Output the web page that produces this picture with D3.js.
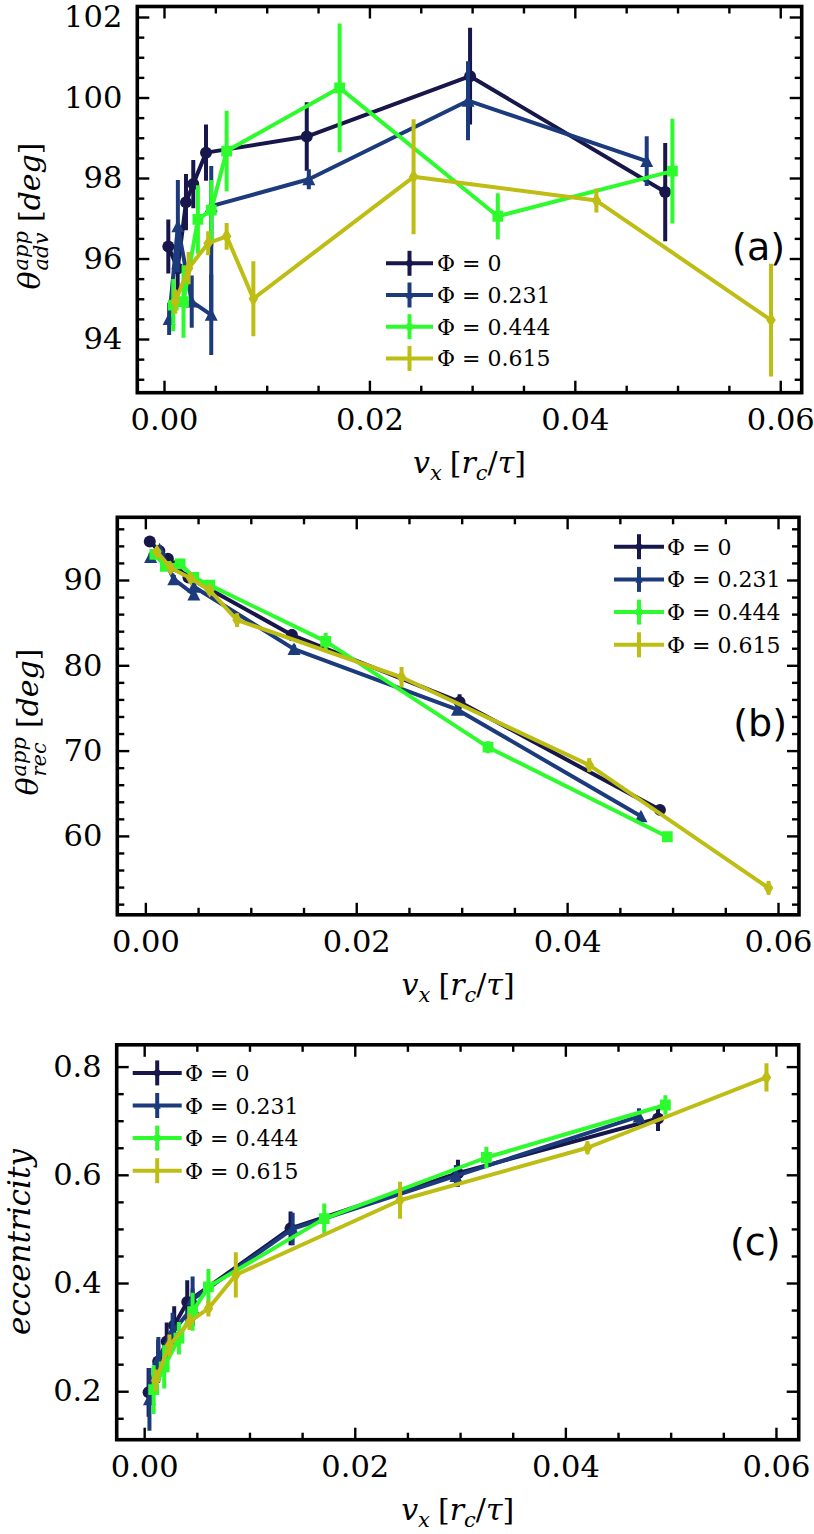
<!DOCTYPE html>
<html>
<head>
<meta charset="utf-8">
<script src="https://cdn.jsdelivr.net/npm/d3@7"></script>
<style>
  body { margin: 0; background: #fff; }
</style>
</head>
<body>
<div id="chart"></div>
<script>
// velocities v_x for each packing fraction
const vx0   = [0.00042, 0.00133, 0.00214, 0.00285, 0.00409, 0.0139, 0.0298, 0.0488];
const vx231 = [0.0005, 0.00135, 0.0027, 0.0046, 0.0046, 0.0141, 0.0296, 0.0470];
const vx444 = [0.0009, 0.0019, 0.0033, 0.0046, 0.0061, 0.0171, 0.0325, 0.0495];
const vx615 = [0.0011, 0.0024, 0.0043, 0.0061, 0.0087, 0.0243, 0.0421, 0.0591];

// (a) apparent advancing angle
const adv0      = [96.3, 95.75, 97.4, 97.85, 98.63, 99.03, 100.53, 97.65];
const advErr0   = [0.67, 0.6, 0.7, 0.6, 0.7, 0.85, 1.2, 1.22];
const adv231    = [94.5, 96.8, 94.93, 94.6, 97.3, 97.97, 99.92, 98.42];
const advErr231 = [0.4, 1.15, 0.65, 1.0, 1.0, 0.25, 0.98, 0.62];
const adv444    = [94.84, 94.93, 96.97, 97.2, 98.67, 100.24, 97.05, 98.17];
const advErr444 = [0.65, 0.9, 0.85, 0.75, 1.0, 1.6, 0.57, 1.3];
const adv615    = [94.93, 95.76, 96.38, 96.55, 95.0, 98.03, 97.44, 94.47];
const advErr615 = [0.3, 0.4, 0.3, 0.33, 0.93, 1.43, 0.3, 1.4];

// (b) apparent receding angle
const rec0      = [94.5, 93.4, 92.5, 91.6, 90.3, 83.55, 75.7, 63.05];
const recErr0   = [0.5, 0.5, 0.5, 0.5, 0.5, 0.7, 0.9, 0.4];
const rec231    = [92.7, 93.6, 90.1, 88.3, 89.2, 81.9, 74.8, 62.3];
const recErr231 = [0.5, 0.5, 0.5, 0.6, 0.5, 0.5, 0.6, 0.4];
const rec444    = [93.0, 91.6, 91.9, 90.3, 89.4, 82.8, 70.4, 59.9];
const recErr444 = [0.5, 0.5, 0.6, 0.5, 0.5, 1.0, 0.7, 0.3];
const rec615    = [93.3, 91.4, 90.2, 88.8, 85.3, 78.6, 68.3, 53.9];
const recErr615 = [0.5, 0.5, 0.5, 0.5, 0.8, 1.2, 0.8, 0.8];

// (c) eccentricity
const ecc0      = [0.198, 0.255, 0.292, 0.322, 0.365, 0.501, 0.603, 0.704];
const eccErr0   = [0.045, 0.04, 0.035, 0.035, 0.04, 0.031, 0.025, 0.023];
const ecc231    = [0.185, 0.26, 0.31, 0.355, 0.37, 0.50, 0.598, 0.708];
const eccErr231 = [0.058, 0.04, 0.035, 0.035, 0.042, 0.03, 0.02, 0.015];
const ecc444    = [0.203, 0.245, 0.298, 0.347, 0.393, 0.519, 0.632, 0.729];
const eccErr444 = [0.045, 0.04, 0.03, 0.035, 0.033, 0.028, 0.02, 0.018];
const ecc615    = [0.22, 0.285, 0.328, 0.353, 0.415, 0.553, 0.650, 0.780];
const eccErr615 = [0.02, 0.02, 0.015, 0.015, 0.042, 0.034, 0.012, 0.026];

const phiNames  = ["Φ = 0", "Φ = 0.231", "Φ = 0.444", "Φ = 0.615"];
const phiColors = ["#17174b", "#1c3b7d", "#2dfb2d", "#bdbd14"];
const phiMarkers = ["circle", "triangle", "square", "diamond"];

const xTicks   = [0, 0.02, 0.04, 0.06];
const advTicks = [94, 96, 98, 100, 102];
const recTicks = [60, 70, 80, 90];
const eccTicks = [0.2, 0.4, 0.6, 0.8];

const W = 814, H = 1534;
const serif = "'DejaVu Serif', serif";
const lw = 4;

const svg = d3.select("#chart").append("svg")
  .attr("width", W)
  .attr("height", H)
  .style("background-color", "#FFFFFF");

const panels = [
  {
    id: "a",
    box: {l: 137.3, r: 801.7, t: 6.5, b: 392.7},
    xDom: [-0.0026, 0.06209], yDom: [92.666, 102.261],
    yTicks: advTicks, yStep: 0.5, yFmt: d3.format("d"),
    series: [[vx0, adv0, advErr0], [vx231, adv231, advErr231], [vx444, adv444, advErr444], [vx615, adv615, advErr615]],
    legend: {x0: 386, x1: 433, tx: 437, y: 263.3, dy: 31.7},
    tag: {text: "(a)", x: 785, y: 260},
    ylab: {sub: "adv", x: 40, y: 216}
  },
  {
    id: "b",
    box: {l: 117.3, r: 799, t: 517.3, b: 914.8},
    xDom: [-0.00266, 0.06199], yDom: [50.75, 97.35],
    yTicks: recTicks, yStep: 2, yFmt: d3.format("d"),
    series: [[vx0, rec0, recErr0], [vx231, rec231, recErr231], [vx444, rec444, recErr444], [vx615, rec615, recErr615]],
    legend: {x0: 614, x1: 664, tx: 667, y: 546.7, dy: 32.7},
    tag: {text: "(b)", x: 787, y: 735.5},
    ylab: {sub: "rec", x: 38, y: 722}
  },
  {
    id: "c",
    box: {l: 116.7, r: 798.7, t: 1044.8, b: 1439.7},
    xDom: [-0.00261, 0.06216], yDom: [0.1104, 0.8403],
    yTicks: eccTicks, yStep: 0.05, yFmt: d3.format(".1f"),
    series: [[vx0, ecc0, eccErr0], [vx231, ecc231, eccErr231], [vx444, ecc444, eccErr444], [vx615, ecc615, eccErr615]],
    legend: {x0: 132.7, x1: 181.7, tx: 185, y: 1072.9, dy: 32.6},
    tag: {text: "(c)", x: 780.5, y: 1255},
    ylab: {plain: "eccentricity", x: 30, y: 1242}
  }
];

// marker outlines centred on the point, s scales them
function marker(kind, s) {
  if (kind === "circle") {
    const r = 6 * s;
    return `M${r},0A${r},${r},0,1,1,${-r},0A${r},${r},0,1,1,${r},0Z`;
  }
  if (kind === "triangle") return `M0,${-6.5 * s}L${6.5 * s},${6 * s}L${-6.5 * s},${6 * s}Z`;
  if (kind === "square") return `M${-5.4 * s},${-5.4 * s}h${10.8 * s}v${10.8 * s}h${-10.8 * s}Z`;
  return `M0,${-7.5 * s}L${4.8 * s},0L0,${7.5 * s}L${-4.8 * s},0Z`;
}

function minorTicks(dom, step, majors) {
  let out = [];
  let start = Math.ceil(dom[0] / step) * step;
  for (let v = start; v <= dom[1] + 1e-12; v += step) {
    let r = Math.round(v / step) * step;
    if (!majors.some(m => Math.abs(m - r) < step * 0.01)) out.push(r);
  }
  return out;
}

function styleAxis(g) {
  g.select(".domain").remove();
  g.selectAll(".tick line").attr("stroke", "#000").attr("stroke-width", 2.4);
  g.selectAll(".tick text")
    .attr("font-family", serif)
    .attr("font-size", 30.5)
    .attr("fill", "#000");
  g.attr("font-family", null).attr("font-size", null);
}

panels.forEach(function(p) {
  let x = d3.scaleLinear().domain(p.xDom).range([p.box.l, p.box.r]);
  let y = d3.scaleLinear().domain(p.yDom).range([p.box.b, p.box.t]);

  let xMinor = minorTicks(p.xDom, 0.005, xTicks);
  let yMinor = minorTicks(p.yDom, p.yStep, p.yTicks);

  // axes: labelled bottom/left, inward ticks on every side
  svg.append("g").attr("transform", `translate(0,${p.box.b})`)
    .call(d3.axisBottom(x).tickValues(xTicks).tickSize(-12).tickPadding(16).tickFormat(d3.format(".2f")))
    .call(styleAxis);
  svg.append("g").attr("transform", `translate(0,${p.box.b})`)
    .call(d3.axisBottom(x).tickValues(xMinor).tickSize(-7).tickFormat(""))
    .call(styleAxis);
  svg.append("g").attr("transform", `translate(0,${p.box.t})`)
    .call(d3.axisTop(x).tickValues(xTicks).tickSize(-12).tickFormat(""))
    .call(styleAxis);
  svg.append("g").attr("transform", `translate(0,${p.box.t})`)
    .call(d3.axisTop(x).tickValues(xMinor).tickSize(-7).tickFormat(""))
    .call(styleAxis);
  svg.append("g").attr("transform", `translate(${p.box.l},0)`)
    .call(d3.axisLeft(y).tickValues(p.yTicks).tickSize(-12).tickPadding(15).tickFormat(p.yFmt))
    .call(styleAxis);
  svg.append("g").attr("transform", `translate(${p.box.l},0)`)
    .call(d3.axisLeft(y).tickValues(yMinor).tickSize(-7).tickFormat(""))
    .call(styleAxis);
  svg.append("g").attr("transform", `translate(${p.box.r},0)`)
    .call(d3.axisRight(y).tickValues(p.yTicks).tickSize(-12).tickFormat(""))
    .call(styleAxis);
  svg.append("g").attr("transform", `translate(${p.box.r},0)`)
    .call(d3.axisRight(y).tickValues(yMinor).tickSize(-7).tickFormat(""))
    .call(styleAxis);

  // clip data to the frame
  svg.append("clipPath").attr("id", "clip-" + p.id)
    .append("rect")
    .attr("x", p.box.l).attr("y", p.box.t)
    .attr("width", p.box.r - p.box.l).attr("height", p.box.b - p.box.t);

  let plot = svg.append("g").attr("clip-path", `url(#clip-${p.id})`);

  let line = d3.line().x(d => x(d[0])).y(d => y(d[1]));

  p.series.forEach(function(s, i) {
    let pts = s[0].map((vx, k) => [vx, s[1][k], s[2][k]]);
    let g = plot.append("g").attr("class", "series");
    g.append("path")
      .attr("d", line(pts))
      .attr("fill", "none")
      .attr("stroke", phiColors[i])
      .attr("stroke-width", lw)
      .attr("stroke-linejoin", "round");
    g.selectAll(".err").data(pts).enter().append("line")
      .attr("class", "err")
      .attr("x1", d => x(d[0])).attr("x2", d => x(d[0]))
      .attr("y1", d => y(d[1] - d[2])).attr("y2", d => y(d[1] + d[2]))
      .attr("stroke", phiColors[i])
      .attr("stroke-width", lw);
    g.selectAll(".mk").data(pts).enter().append("path")
      .attr("class", "mk")
      .attr("transform", d => `translate(${x(d[0])},${y(d[1])})`)
      .attr("d", marker(phiMarkers[i], 1))
      .attr("fill", phiColors[i]);
  });

  // frame
  svg.append("rect")
    .attr("x", p.box.l).attr("y", p.box.t)
    .attr("width", p.box.r - p.box.l).attr("height", p.box.b - p.box.t)
    .attr("fill", "none").attr("stroke", "#000").attr("stroke-width", 3.6);

  // legend
  let lg = svg.append("g").attr("class", "legend");
  phiNames.forEach(function(name, i) {
    let ly = p.legend.y + i * p.legend.dy;
    let cx = (p.legend.x0 + p.legend.x1) / 2;
    lg.append("line")
      .attr("x1", p.legend.x0).attr("x2", p.legend.x1)
      .attr("y1", ly).attr("y2", ly)
      .attr("stroke", phiColors[i]).attr("stroke-width", lw);
    lg.append("line")
      .attr("x1", cx).attr("x2", cx)
      .attr("y1", ly - 12.5).attr("y2", ly + 12.5)
      .attr("stroke", phiColors[i]).attr("stroke-width", lw);
    lg.append("path")
      .attr("transform", `translate(${cx},${ly})`)
      .attr("d", marker(phiMarkers[i], 0.55))
      .attr("fill", phiColors[i]);
    lg.append("text")
      .attr("x", p.legend.tx).attr("y", ly + 8)
      .attr("font-family", serif).attr("font-size", 22)
      .text(name);
  });

  // panel tag
  svg.append("text")
    .attr("x", p.tag.x).attr("y", p.tag.y)
    .attr("text-anchor", "end")
    .attr("font-family", "'DejaVu Sans', sans-serif")
    .attr("font-size", 38)
    .text(p.tag.text);

  // x label  v_x [r_c/τ]
  let xl = svg.append("text")
    .attr("x", (p.box.l + p.box.r) / 2)
    .attr("y", p.box.b + 80)
    .attr("text-anchor", "middle")
    .attr("font-family", serif)
    .attr("font-size", 30);
  xl.append("tspan").attr("font-style", "italic").text("v");
  xl.append("tspan").attr("font-style", "italic").attr("font-size", 21).attr("dy", 7).text("x");
  xl.append("tspan").attr("dy", -7).attr("dx", 8).text("[");
  xl.append("tspan").attr("font-style", "italic").text("r");
  xl.append("tspan").attr("font-style", "italic").attr("font-size", 21).attr("dy", 7).text("c");
  xl.append("tspan").attr("dy", -7).text("/");
  xl.append("tspan").attr("font-style", "italic").text("τ");
  xl.append("tspan").text("]");

  // y label
  let yg = svg.append("g").attr("transform", `translate(${p.ylab.x},${p.ylab.y}) rotate(-90)`);
  let inner = yg.append("g");
  if (p.ylab.plain) {
    inner.append("text")
      .attr("font-family", serif).attr("font-size", 31)
      .attr("font-style", "italic")
      .attr("text-anchor", "middle")
      .text(p.ylab.plain);
  } else {
    let th = inner.append("text")
      .attr("font-family", serif).attr("font-size", 30)
      .attr("font-style", "italic").text("θ");
    let w1 = th.node().getComputedTextLength() + 1;
    let sup = inner.append("text").attr("x", w1).attr("y", -12)
      .attr("font-family", serif).attr("font-size", 21).attr("font-style", "italic").text("app");
    let sub = inner.append("text").attr("x", w1).attr("y", 8)
      .attr("font-family", serif).attr("font-size", 21).attr("font-style", "italic").text(p.ylab.sub);
    let w2 = Math.max(sup.node().getComputedTextLength(), sub.node().getComputedTextLength());
    let rest = inner.append("text").attr("x", w1 + w2 + 9)
      .attr("font-family", serif).attr("font-size", 30);
    rest.append("tspan").text("[");
    rest.append("tspan").attr("font-style", "italic").text("deg");
    rest.append("tspan").text("]");
    let total = w1 + w2 + 9 + rest.node().getComputedTextLength();
    inner.attr("transform", `translate(${-total / 2},0)`);
  }
});
</script>
</body>
</html>
